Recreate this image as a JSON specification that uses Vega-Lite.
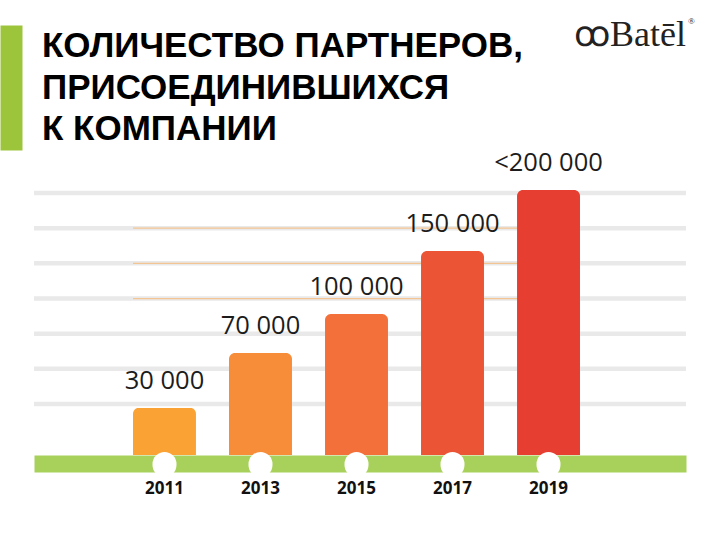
{
  "$schema": "https://vega.github.io/schema/vega-lite/v6.json",
  "width": 652,
  "height": 455,
  "autosize": {"type": "none"},
  "padding": {"left": 34, "right": 34, "top": 0, "bottom": 85},
  "background": "white",
  "config": {"view": {"stroke": null}},
  "datasets": {
    "partners": [
      {"year": "2011", "partners": 30000, "label": "30 000"},
      {"year": "2013", "partners": 70000, "label": "70 000"},
      {"year": "2015", "partners": 100000, "label": "100 000"},
      {"year": "2017", "partners": 150000, "label": "150 000"},
      {"year": "2019", "partners": 200000, "label": "<200 000"}
    ],
    "grid": [{"g": 1}, {"g": 2}, {"g": 3}, {"g": 4}, {"g": 5}, {"g": 6}, {"g": 7}],
    "guides": [
      {"g": 4, "from": "2011", "to": "2019"},
      {"g": 5, "from": "2011", "to": "2019"},
      {"g": 6, "from": "2011", "to": "2019"}
    ],
    "heading": [
      {"row": "1", "text": "КОЛИЧЕСТВО ПАРТНЕРОВ,", "pos": 0},
      {"row": "2", "text": "ПРИСОЕДИНИВШИХСЯ", "pos": 0},
      {"row": "3", "text": "К КОМПАНИИ", "pos": 0}
    ],
    "logo": [{"row": "1", "text": "ꝏBatēl", "mark": "®", "pos": 1}]
  },
  "layer": [
    {
      "layer": [
        {
          "data": {"name": "grid"},
          "mark": {"type": "rule", "color": "#e9e9e9", "strokeWidth": 4.5},
          "encoding": {
            "y": {"field": "g", "type": "quantitative", "scale": {"domain": [-0.45, 12.49], "nice": false, "zero": false}, "axis": null}
          }
        },
        {
          "data": {"name": "guides"},
          "mark": {"type": "rule", "color": "#f3c592", "strokeWidth": 1.2},
          "encoding": {
            "y": {"field": "g", "type": "quantitative", "scale": {"domain": [-0.45, 12.49], "nice": false, "zero": false}, "axis": null},
            "x": {
              "field": "from", "type": "nominal", "bandPosition": 0,
              "scale": {"domain": ["2011", "2013", "2015", "2017", "2019"], "range": [3, 642], "paddingInner": 0.344, "paddingOuter": 1, "align": 0.5},
              "axis": {
                "orient": "bottom", "offset": 8.5, "title": null, "labelAngle": 0, "domain": false,
                "ticks": true, "tickSize": 1, "tickWidth": 24, "tickCap": "round", "tickColor": "#ffffff",
                "labelFont": "Open Sans", "labelFontWeight": "bold", "labelFontSize": 17, "labelColor": "#111111", "labelPadding": 16,
                "zindex": 2
              }
            },
            "x2": {"field": "to"}
          }
        }
      ]
    },
    {
      "data": {"name": "partners"},
      "encoding": {
        "x": {
          "field": "year", "type": "nominal",
          "scale": {"domain": ["2011", "2013", "2015", "2017", "2019"], "range": [3, 642], "paddingInner": 0.344, "paddingOuter": 1, "align": 0.5},
          "axis": null
        },
        "y": {"field": "partners", "type": "quantitative", "scale": {"type": "pow", "exponent": 0.91, "domain": [0, 362300], "nice": false}, "axis": null}
      },
      "layer": [
        {
          "mark": {"type": "bar", "cornerRadiusTopLeft": 6, "cornerRadiusTopRight": 6},
          "encoding": {
            "color": {"field": "year", "type": "nominal", "scale": {"domain": ["2011", "2013", "2015", "2017", "2019"], "range": ["#fba234", "#f78c39", "#f3703a", "#ec5436", "#e63f31"]}, "legend": null}
          }
        },
        {
          "mark": {"type": "text", "dy": -19, "baseline": "alphabetic", "font": "Open Sans", "fontSize": 25.5, "color": "#1c1c1c"},
          "encoding": {"text": {"field": "label"}}
        }
      ]
    },
    {
      "layer": [
        {
          "data": {"name": "heading"},
          "mark": {"type": "text", "align": "left", "baseline": "middle", "dx": 8, "font": "Liberation Sans", "fontWeight": "bold", "fontSize": 35, "color": "#000000"},
          "encoding": {
            "x": {
              "field": "pos", "type": "quantitative", "scale": {"domain": [0, 1], "nice": false, "zero": false},
              "axis": {"orient": "bottom", "offset": 8.5, "title": null, "domainWidth": 17, "domainColor": "#a8d15c", "domainCap": "butt", "ticks": false, "labels": false, "grid": false, "zindex": 1}
            },
            "y": {
              "field": "row", "type": "nominal",
              "scale": {"type": "band", "domain": ["1", "2", "3"], "range": [25, 150], "paddingInner": 0, "paddingOuter": 0},
              "axis": {"orient": "left", "offset": 23, "domainWidth": 22, "domainColor": "#9dc53c", "domainCap": "butt", "ticks": false, "labels": false, "title": null, "grid": false}
            },
            "text": {"field": "text"}
          }
        },
        {
          "data": {"name": "logo"},
          "mark": {"type": "text", "align": "right", "baseline": "middle", "dy": -11, "font": "Liberation Serif", "fontSize": 36, "color": "#222222"},
          "encoding": {
            "x": {"field": "pos", "type": "quantitative"},
            "y": {"field": "row", "type": "nominal"},
            "text": {"field": "text"}
          }
        },
        {
          "data": {"name": "logo"},
          "mark": {"type": "text", "align": "left", "baseline": "middle", "dx": 2, "dy": -25, "font": "Liberation Serif", "fontSize": 9, "color": "#222222"},
          "encoding": {
            "x": {"field": "pos", "type": "quantitative"},
            "y": {"field": "row", "type": "nominal"},
            "text": {"field": "mark"}
          }
        }
      ]
    }
  ],
  "resolve": {"scale": {"x": "independent", "y": "independent", "color": "independent"}}
}
